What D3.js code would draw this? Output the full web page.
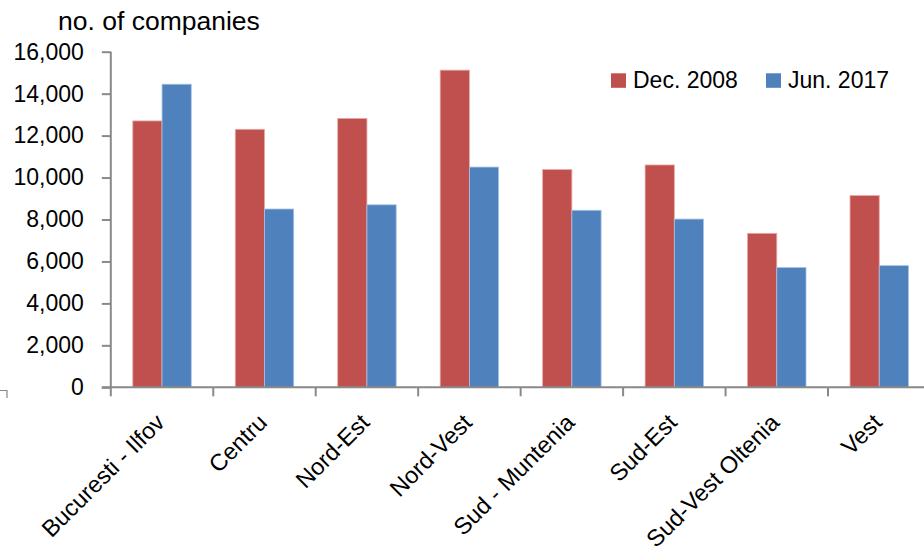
<!DOCTYPE html>
<html>
<head>
<meta charset="utf-8">
<script src="https://cdn.jsdelivr.net/npm/d3@7"></script>
<style>
  html, body { margin: 0; padding: 0; background: #fff; }
  svg { display: block; font-family: "Liberation Sans", Arial, sans-serif; }
</style>
</head>
<body>
<svg id="chart" width="924" height="551"></svg>
<script>
// Development regions of Romania
const categories = ["Bucuresti - Ilfov", "Centru", "Nord-Est", "Nord-Vest",
                    "Sud - Muntenia", "Sud-Est", "Sud-Vest Oltenia", "Vest"];
const seriesNames = ["Dec. 2008", "Jun. 2017"];
const dec2008 = [12700, 12300, 12820, 15120, 10380, 10600, 7340, 9140];
const jun2017 = [14450, 8500, 8700, 10500, 8440, 8020, 5710, 5800];
const yTicks = [0, 2000, 4000, 6000, 8000, 10000, 12000, 14000, 16000];
const colors = ["#C0504D", "#4F81BD"];
const axisTitle = "no. of companies";

const svg = d3.select("#chart");
const axisColor = "#898989";

const x0 = 110.8, bandW = 102.46;
const x = d3.scaleBand().domain(categories)
  .range([x0, x0 + bandW * categories.length]).padding(0);
const xs = d3.scaleBand().domain(seriesNames).range([22, bandW - 22]).padding(0);
const y = d3.scaleLinear().domain([0, 16000]).range([387.3, 51.7]);

const values = [dec2008, jun2017];

// Bars
seriesNames.forEach((s, si) => {
  svg.append("g").selectAll("rect")
    .data(categories.map((c, i) => ({ c, v: values[si][i] })))
    .join("rect")
    .attr("x", d => x(d.c) + xs(s))
    .attr("y", d => y(d.v))
    .attr("width", xs.bandwidth())
    .attr("height", d => y(0) - y(d.v))
    .attr("fill", colors[si])
    .attr("stroke", si === 0 ? "#e6a9a7" : "#a9c3e4")
    .attr("stroke-width", 0.8);
});

// Y axis
const yAxis = svg.append("g")
  .attr("transform", `translate(${x0},0)`)
  .call(d3.axisLeft(y).tickValues(yTicks).tickSize(9).tickPadding(18)
        .tickFormat(d3.format(",")));
yAxis.select(".domain").attr("stroke", axisColor).attr("stroke-width", 2)
  .attr("d", `M0,${y(16000)}V${y(0)}`);
yAxis.selectAll(".tick line").attr("stroke", axisColor).attr("stroke-width", 2);
yAxis.selectAll(".tick text")
  .attr("fill", "#000").attr("font-size", 23)
  .attr("font-family", "Liberation Sans, Arial, sans-serif");

// X axis line with tick marks between categories
const xAxisG = svg.append("g");
xAxisG.append("line")
  .attr("x1", x0 - 9).attr("x2", 924)
  .attr("y1", y(0)).attr("y2", y(0))
  .attr("stroke", axisColor).attr("stroke-width", 2);
xAxisG.selectAll("line.tk")
  .data(categories)
  .join("line")
  .attr("class", "tk")
  .attr("x1", d => x(d)).attr("x2", d => x(d))
  .attr("y1", y(0)).attr("y2", y(0) + 9)
  .attr("stroke", axisColor).attr("stroke-width", 2);

// Category labels, rotated
xAxisG.selectAll("text")
  .data(categories)
  .join("text")
  .attr("transform", d => `translate(${x(d) + x.bandwidth() / 2 + 4},${424}) rotate(-45)`)
  .attr("text-anchor", "end")
  .attr("font-size", 23.5)
  .attr("fill", "#000")
  .text(d => d);

// Axis title
svg.append("text")
  .attr("x", 58).attr("y", 30)
  .attr("font-size", 26.5)
  .attr("fill", "#000")
  .text(axisTitle);

// Legend
const legendX = [611, 766];
seriesNames.forEach((s, i) => {
  svg.append("rect")
    .attr("x", legendX[i]).attr("y", 73.3)
    .attr("width", 15).attr("height", 14.5)
    .attr("fill", colors[i]);
  svg.append("text")
    .attr("x", legendX[i] + 22).attr("y", 88.3)
    .attr("font-size", 23)
    .attr("fill", "#000")
    .text(s);
});

// Corner mark of the outer frame
svg.append("path")
  .attr("d", "M0,390.5H7V398")
  .attr("fill", "none")
  .attr("stroke", axisColor)
  .attr("stroke-width", 1.2);
</script>
</body>
</html>
